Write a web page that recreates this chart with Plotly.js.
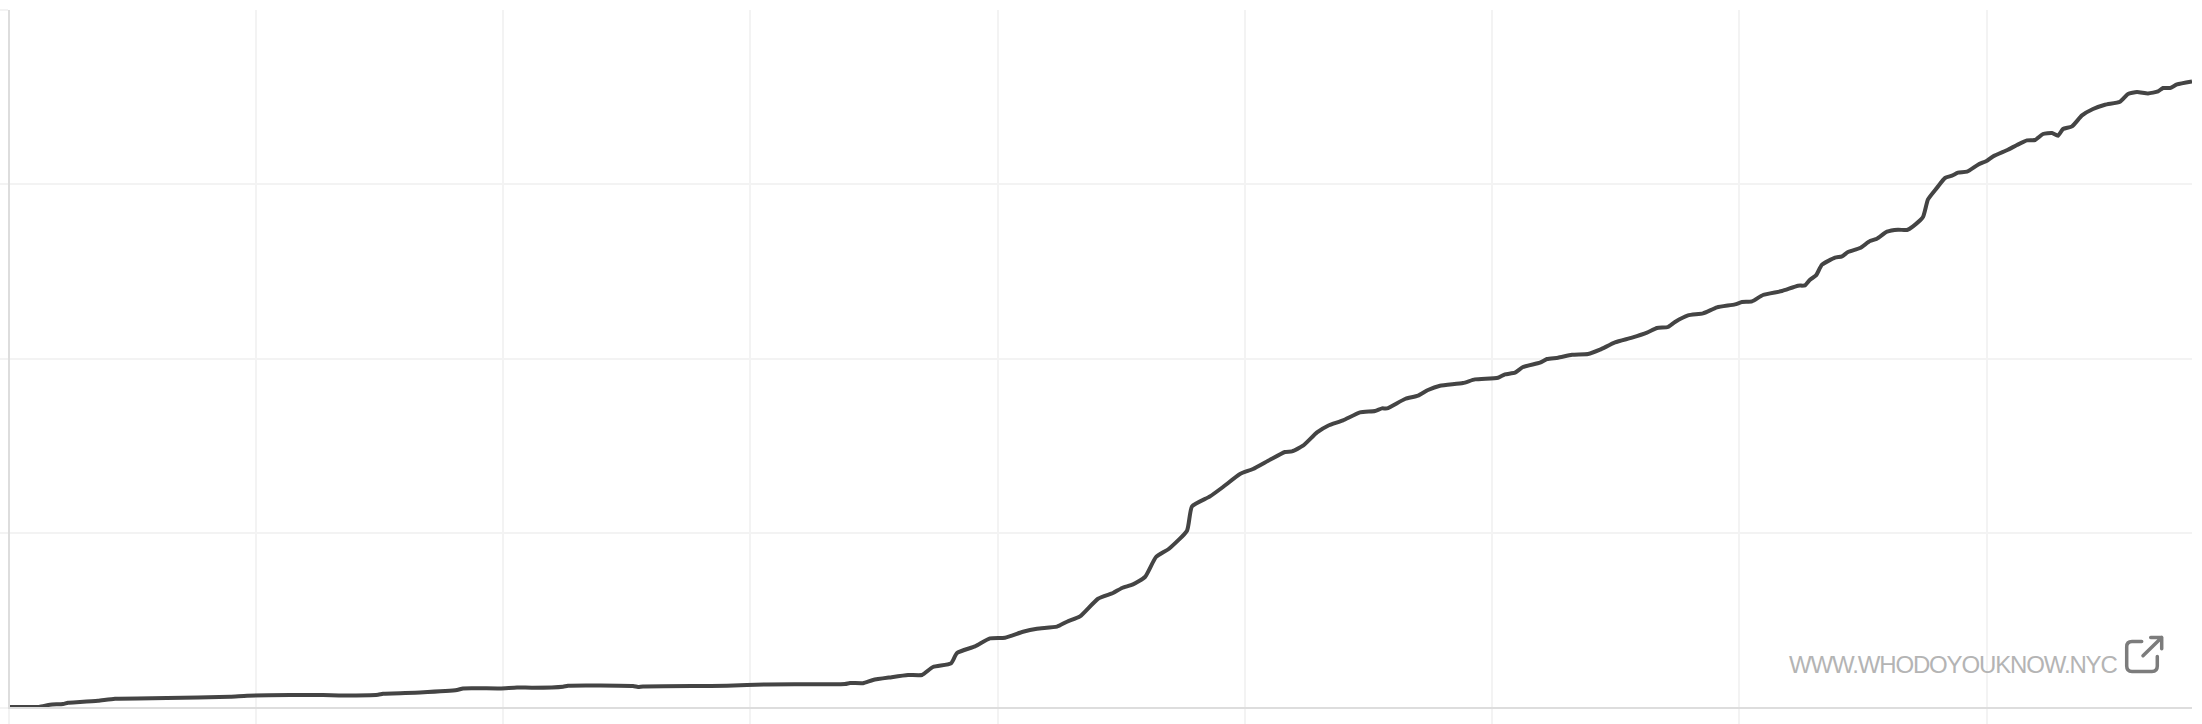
<!DOCTYPE html>
<html>
<head>
<meta charset="utf-8">
<script src="https://cdn.plot.ly/plotly-3.0.1.min.js"></script>
<style>
html,body{margin:0;padding:0;background:#fff}
#chart{width:2202px;height:724px}
.annotation-text{letter-spacing:-1.15px}
.shapelayer path{stroke-linecap:round;stroke-linejoin:round}
</style>
</head>
<body>
<div id="chart"></div>
<script>
const timeUnits = [10,39,50,63,68,80,98,115,167,230,247,290,323,343,378,383,420,457,463,500,517,533,563,568,633,638,643,727,767,845,850,863,873,890,908,922,933,951,957,975,990,1005,1023,1037,1057,1067,1080,1098,1113,1122,1133,1145,1156,1169,1187,1192,1210,1223,1240,1253,1270,1285,1292,1303,1317,1328,1343,1360,1375,1382,1387,1405,1418,1428,1440,1463,1475,1498,1505,1515,1523,1540,1547,1558,1572,1588,1600,1615,1632,1647,1657,1668,1675,1688,1703,1717,1735,1742,1752,1763,1782,1798,1805,1810,1816,1822,1835,1842,1848,1860,1870,1877,1887,1898,1907,1913,1923,1928,1937,1945,1952,1958,1967,1978,1987,1993,2008,2017,2027,2035,2043,2052,2058,2063,2072,2082,2093,2105,2120,2128,2137,2148,2158,2163,2170,2177,2192];
const cumulative = [0.8,0.8,3,3.7,5,5.7,7,9,9.7,11,12,12.7,12.7,12.3,13,14,15.3,17.7,19.3,19.3,20.3,20,21,22,21.7,20.7,21.3,22,23.3,23.7,24.7,24.5,27.7,30.3,32.7,32.7,40.7,44.3,54.7,61.3,69.3,70,76,79,81,86,91.3,109,114.7,119.7,123.3,130.7,150.7,159,177,201.3,211.3,220.7,233.7,238.7,248,255.7,256.3,262,275.3,282,287.3,295.3,296.7,299.3,299.3,308.7,312,317.7,322,324.7,328.3,330,333.3,335,340.7,345,348.7,350,353,353.7,358,365.3,370,375,379.7,380.7,385.7,392.3,394.3,400.3,403.3,405.7,406.3,412.7,416.7,422,422.3,428,432.3,443,450,451.3,455.7,459.7,466.7,469,476,478,477.7,481.3,490.7,508.3,520,529.7,532,535,536,543,547,551.3,558,562.7,567.3,567.7,573.7,574.7,572,578.7,581.3,592.3,598.7,603,606,613.7,615.7,614.3,616.3,619.7,619.7,623.3,626.3];
const watermark = "WWW.WHODOYOUKNOW.NYC";

const trace = {
  type: "scatter", mode: "lines", x: timeUnits, y: cumulative,
  line: {color: "#444444", width: 4, shape: "spline", smoothing: 0.5}, cliponaxis: false, hoverinfo: "skip"
};
const layout = {
  width: 2202, height: 724,
  margin: {l: 10, r: 10, t: 10, b: 17, pad: 0},
  paper_bgcolor: "#ffffff", plot_bgcolor: "#ffffff",
  showlegend: false,
  xaxis: {range: [10, 2192], tick0: 8.76, dtick: 247.24, showgrid: true, gridcolor: "#f3f3f3", gridwidth: 2,
          showticklabels: false, ticks: "outside", ticklen: 16, tickcolor: "#f3f3f3", tickwidth: 2,
          showline: true, linecolor: "#dddddd", linewidth: 2, zeroline: false, layer: "below traces"},
  yaxis: {range: [0.7, 697.7], tick0: 0.1, dtick: 174.4, showgrid: true, gridcolor: "#f3f3f3", gridwidth: 2,
          showticklabels: false, ticks: "outside", ticklen: 8, tickcolor: "#f3f3f3", tickwidth: 2,
          showline: true, linecolor: "#dddddd", linewidth: 2, zeroline: false, layer: "below traces"},
  annotations: [{
    text: watermark, xref: "x", yref: "y", x: 2119, y: 43.5, xanchor: "right", yanchor: "middle",
    showarrow: false, font: {family: "Liberation Sans, Arial, sans-serif", size: 24, color: "#b4b4b4"}
  }],
  shapes: [
    {type: "path", xref: "paper", yref: "paper", layer: "below", line: {color: "#f3f3f3", width: 2},
     path: "M -0.00046 -0.0014 L -0.00046 -0.0244"},
    {type: "path", xref: "paper", yref: "paper", layer: "below", line: {color: "#f3f3f3", width: 2},
     path: "M -0.0046 -0.0014 L -0.0009 -0.0014"},
    {type: "path", xref: "x", yref: "y", line: {color: "#7c7c7c", width: 3.5},
     path: "M 2141.7 66.3 L 2132 66.3 Q 2126.7 66.3 2126.7 61 L 2126.7 41.7 Q 2126.7 36.3 2132 36.3 L 2152 36.3 Q 2157.3 36.3 2157.3 41.7 L 2157.3 51.3"},
    {type: "path", xref: "x", yref: "y", line: {color: "#7c7c7c", width: 3.5},
     path: "M 2143 52 L 2161.7 70.3 M 2150.7 70.3 L 2161.7 70.3 L 2161.7 59"}
  ]
};
Plotly.newPlot("chart", [trace], layout, {displayModeBar: false, staticPlot: true});
</script>
</body>
</html>
